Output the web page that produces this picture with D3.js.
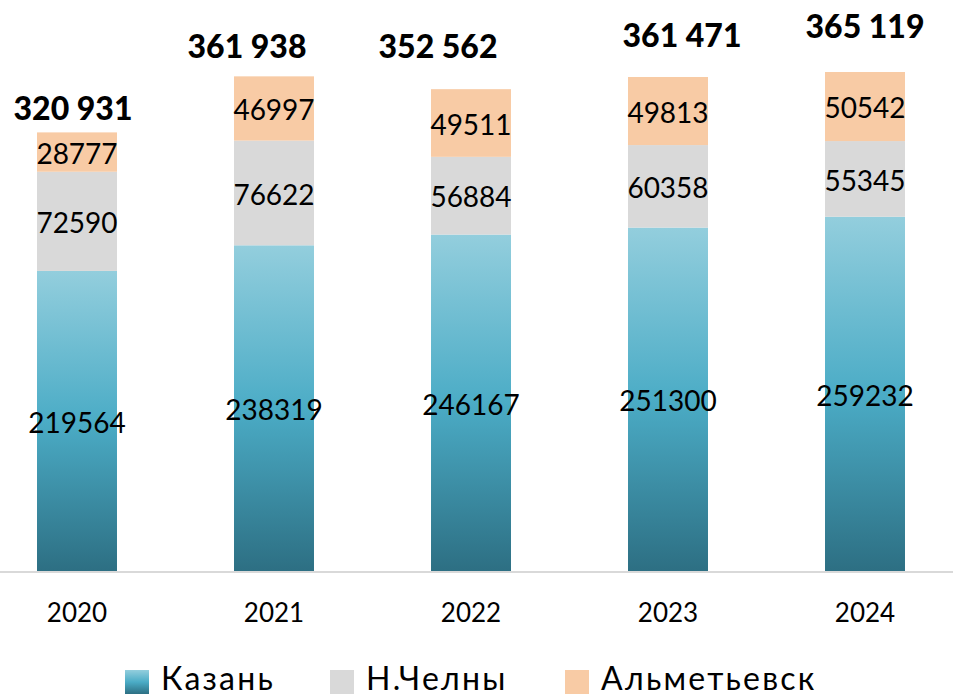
<!DOCTYPE html>
<html>
<head>
<meta charset="utf-8">
<script src="https://cdn.jsdelivr.net/npm/d3@7"></script>
<style>
  body { margin: 0; background: #fff; }
  svg { display: block; font-family: Lato, "Open Sans", sans-serif; }
</style>
</head>
<body>
<svg id="chart" width="953" height="698"></svg>
<script>
var years = ["2020", "2021", "2022", "2023", "2024"];
var cities = ["Казань", "Н.Челны", "Альметьевск"];
var kazan = [219564, 238319, 246167, 251300, 259232];
var chelny = [72590, 76622, 56884, 60358, 55345];
var almet = [28777, 46997, 49511, 49813, 50542];
var totals = [320931, 361938, 352562, 361471, 365119];

// hand-placed total labels (offset from bar centre / bar top)
var totalDx = [-4, -27, -33, 14, 0];
var totalDy = [-12, -18, -31, -30, -34];

var svg = d3.select("#chart"),
    width = 953,
    base = 571;

var rows = years.map((y, i) => ({year: y, "Казань": kazan[i], "Н.Челны": chelny[i], "Альметьевск": almet[i], total: totals[i], i: i}));
var stack = d3.stack().keys(cities)(rows);

var x = d3.scaleBand().domain(years).range([-21.5, 963.5]).paddingInner(0.594).paddingOuter(0.297);
var y = d3.scaleLinear().domain([0, 420000]).range([base, -3]);

var defs = svg.append("defs");
var grad = defs.append("linearGradient").attr("id", "kz")
  .attr("x1", 0).attr("y1", 0).attr("x2", 0).attr("y2", 1);
grad.append("stop").attr("offset", "0%").attr("stop-color", "#93cedd");
grad.append("stop").attr("offset", "50%").attr("stop-color", "#4bacc6");
grad.append("stop").attr("offset", "100%").attr("stop-color", "#2d6f83");

var fills = {"Казань": "url(#kz)", "Н.Челны": "#d9d9d9", "Альметьевск": "#f8cba5"};

var layers = svg.selectAll("g.layer").data(stack).enter().append("g").attr("class", "layer");
layers.selectAll("rect").data(d => d.map(p => ({p: p, key: d.key}))).enter().append("rect")
  .attr("x", d => x(d.p.data.year))
  .attr("width", x.bandwidth())
  .attr("y", d => y(d.p[1]))
  .attr("height", d => y(d.p[0]) - y(d.p[1]))
  .attr("fill", d => fills[d.key]);

// segment labels
layers.selectAll("text").data(d => d.map(p => ({p: p, key: d.key}))).enter().append("text")
  .attr("x", d => x(d.p.data.year) + x.bandwidth() / 2)
  .attr("y", d => (y(d.p[0]) + y(d.p[1])) / 2)
  .attr("dy", "0.42em")
  .attr("text-anchor", "middle")
  .attr("font-size", 28)
  .attr("fill", "#000")
  .text(d => d.p.data[d.key]);

// axis line
svg.append("line").attr("x1", 0).attr("x2", width).attr("y1", base + 1).attr("y2", base + 1)
  .attr("stroke", "#d9d9d9").attr("stroke-width", 2);

// totals
var fmt = d3.format(",");
svg.selectAll("text.total").data(rows).enter().append("text").attr("class", "total")
  .attr("x", d => x(d.year) + x.bandwidth() / 2 + totalDx[d.i])
  .attr("y", d => y(d.total) + totalDy[d.i])
  .attr("text-anchor", "middle")
  .attr("font-size", 32)
  .attr("font-weight", "900")
  .text(d => fmt(d.total).replace(/,/g, " "));

// x labels
svg.selectAll("text.year").data(years).enter().append("text").attr("class", "year")
  .attr("x", d => x(d) + x.bandwidth() / 2)
  .attr("y", 622)
  .attr("text-anchor", "middle")
  .attr("font-size", 26)
  .text(d => d);

// legend
var legX = [125, 330, 565];
var leg = svg.selectAll("g.leg").data(cities).enter().append("g").attr("class", "leg")
  .attr("transform", (d, i) => `translate(${legX[i]},670)`);
leg.append("rect").attr("width", 24).attr("height", 24)
  .attr("fill", d => d == "Казань" ? "url(#kz)" : fills[d]);
leg.append("text").attr("x", 36).attr("y", 20).attr("font-size", 32)
  .attr("letter-spacing", 2.2).text(d => d);
</script>
</body>
</html>
